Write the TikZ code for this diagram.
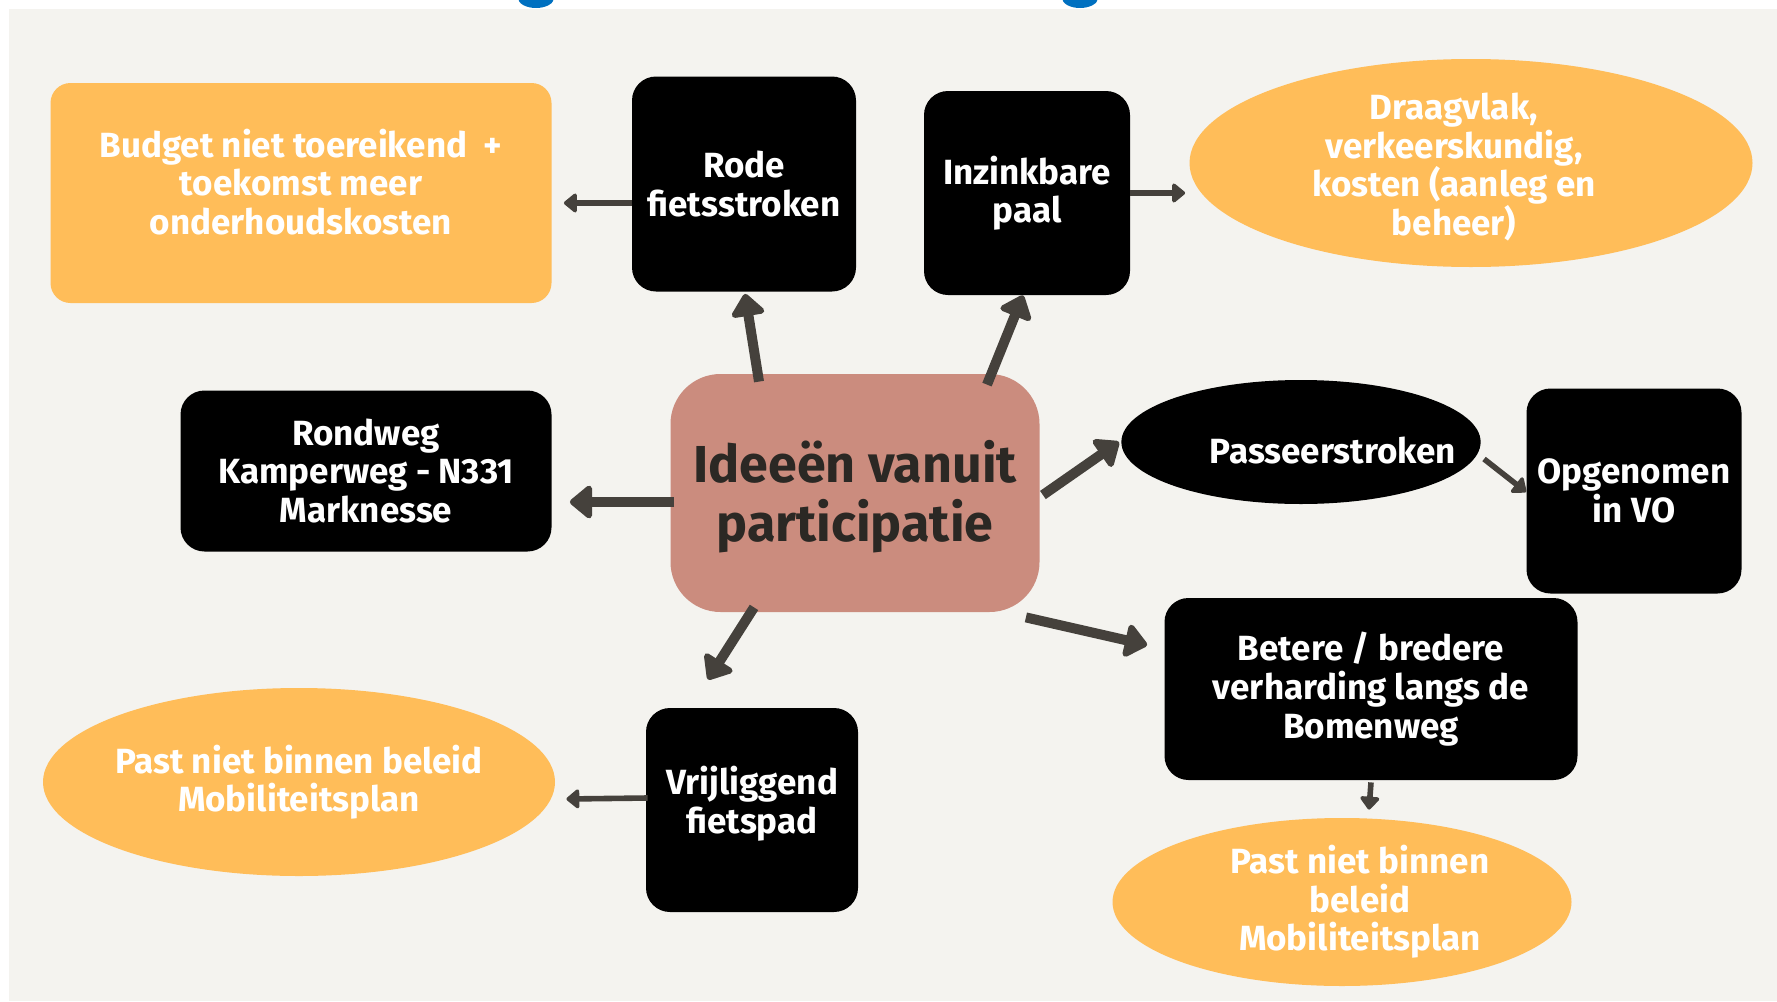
\documentclass[tikz,border=0pt]{standalone}
\usepackage{fontspec}
\setmainfont{Fira Sans}
\usetikzlibrary{arrows.meta,calc,shapes.geometric}

\definecolor{achtergrond}{RGB}{244,243,239}
\definecolor{oranje}{RGB}{255,189,89}
\definecolor{kernrood}{RGB}{203,140,126}
\definecolor{pijlgrijs}{RGB}{69,65,60}
\definecolor{kerntekst}{RGB}{43,40,36}
\definecolor{titelblauw}{RGB}{0,112,192}

\begin{document}
\begin{tikzpicture}[x=0.5pt,y=-0.5pt,
		zwartblok/.style={rectangle,rounded corners=12pt,fill=black,text=white,inner sep=0pt,align=center,font={\fontsize{17.5}{19.3}\selectfont\bfseries}},
		zwartovaal/.style={ellipse,fill=black,text=white,inner sep=0pt,align=center,font={\fontsize{17.5}{19.3}\selectfont\bfseries}},
		oranjeblok/.style={rectangle,rounded corners=10pt,fill=oranje,text=white,inner sep=0pt,align=center,font={\fontsize{17.5}{19.3}\selectfont\bfseries}},
		oranjeovaal/.style={ellipse,fill=oranje,text=white,inner sep=0pt,align=center,font={\fontsize{17.5}{19.3}\selectfont\bfseries}},
		kernblok/.style={rectangle,rounded corners=25pt,fill=kernrood,text=kerntekst,inner sep=0pt,align=center,font={\fontsize{26}{29.5}\selectfont\bfseries}},
		grotepijl/.style={draw=pijlgrijs,line width=5pt,-{Triangle[length=12pt,width=19pt,round]}},
		kleinepijl/.style={draw=pijlgrijs,line width=2.8pt,-{Triangle[length=7pt,width=11pt,round]}}]
		\useasboundingbox (0,0) rectangle (1777,1001);
		
		% Achtergrond
		\fill[white] (0,0) rectangle (1777,1001);
		\fill[titelblauw] (536,-2) ellipse (18 and 10);
		\fill[titelblauw] (1080,-2) ellipse (18 and 10);
		\fill[achtergrond] (9,9) rectangle (1777,1001);
		
		% Midden
		\node[kernblok,minimum width=184.5pt,minimum height=119pt] (kern) at (855,493) {\rule{0pt}{25pt}Ideeën vanuit\\participatie};
		
		% Bovenkant
		\node[zwartblok,minimum width=112pt,minimum height=107.5pt] (rode) at (744,184) {Rode\\fietsstroken};
		\node[oranjeblok,minimum width=250.5pt,minimum height=110pt] (budget) at (301,193) {Budget niet toereikend\ \ +\\toekomst meer\\onderhoudskosten\\[-8pt]\mbox{}};
		\node[zwartblok,minimum width=103pt,minimum height=102pt] (inzink) at (1027,193) {Inzinkbare\\paal};
		\node[oranjeovaal,inner ysep=-3pt,minimum width=281.5pt,minimum height=104pt] (draagvlak) at (1471,163) {\hspace*{-17pt}\rule{0pt}{17.4pt}Draagvlak,\\\hspace*{-17pt}verkeerskundig,\\\hspace*{-17pt}kosten (aanleg en\\\hspace*{-17pt}beheer)};
		
		% Links
		\node[zwartblok,minimum width=185.5pt,minimum height=80.5pt] (rondweg) at (366,471) {Rondweg\\Kamperweg - N331\\Marknesse};
		
		% Rechts
		\node[zwartovaal,inner xsep=-14pt,minimum width=171.5pt,minimum height=62pt] (passeer) at (1301,442) {\hspace*{32pt}\rule{0pt}{22pt}Passeerstroken};
		\node[zwartblok,minimum width=107.5pt,minimum height=102.5pt] (opgenomen) at (1634,491) {Opgenomen\\in VO};
		\node[zwartblok,minimum width=206.5pt,minimum height=91pt] (betere) at (1371,689) {Betere / bredere\\verharding langs de\\Bomenweg};
		\node[oranjeovaal,minimum width=229.5pt,minimum height=84pt] (beleidrechts) at (1342,902) {\hspace*{18pt}Past niet binnen\\\hspace*{18pt}beleid\\\hspace*{18pt}Mobiliteitsplan};
		
		% Onderkant
		\node[zwartblok,minimum width=106pt,minimum height=102pt] (vrij) at (752,810) {Vrijliggend\\fietspad\\[-9pt]\mbox{}};
		\node[oranjeovaal,inner xsep=-3pt,minimum width=256pt,minimum height=94pt] (beleidlinks) at (299,782) {Past niet binnen beleid\\Mobiliteitsplan};
		
		% Pijlen vanuit het midden
		\draw[grotepijl] ($(kern.north)+(-96,8)$) -- ($(rode.south)+(1,2)$);
		\draw[grotepijl] ($(kern.north)+(132,11)$) -- ($(inzink.south)+(-4,0)$);
		\draw[grotepijl] ($(kern.west)+(4,9)$) -- ($(rondweg.east)+(18,31)$);
		\draw[grotepijl] ($(kern.east)+(3,2)$) -- ($(passeer.west)+(-2,0)$);
		\draw[grotepijl] ($(kern.south east)+(-14,5)$) -- ($(betere.west)+(-17,-44)$);
		\draw[grotepijl] ($(kern.south)+(-101,-5)$) -- ($(vrij.north)+(-44,-28)$);
		
		% Pijlen naar de uitkomsten
		\draw[kleinepijl] ($(rode.west)+(0,19)$) -- ($(budget.east)+(12,10)$);
		\draw[kleinepijl] (inzink.east) -- ($(draagvlak.west)+(-4,30)$);
		\draw[kleinepijl] ($(passeer.east)+(3,17)$) -- ($(opgenomen.west)+(0,1)$);
		\draw[kleinepijl] ($(betere.south)+(0,2)$) -- ($(beleidrechts.north)+(27,-8)$);
		\draw[kleinepijl] ($(vrij.west)+(2,-12)$) -- ($(beleidlinks.east)+(11,17)$);
	\end{tikzpicture}
\end{document}
